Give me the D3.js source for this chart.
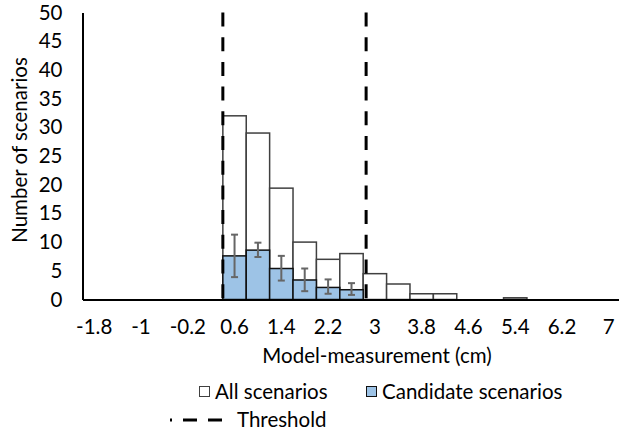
<!DOCTYPE html>
<html>
<head>
<meta charset="utf-8">
<script src="https://cdn.jsdelivr.net/npm/d3@7"></script>
<style>
  body { margin: 0; background: #fff; }
  text { font-family: Lato, "Open Sans", sans-serif; fill: #000; font-size: 20.5px; }
</style>
</head>
<body>
<svg id="chart" width="619" height="434"></svg>
<script>
// bin centres (cm), every other one is labelled
const bins = [-1.8, -1.4, -1.0, -0.6, -0.2, 0.2, 0.6, 1.0, 1.4, 1.8, 2.2, 2.6,
              3.0, 3.4, 3.8, 4.2, 4.6, 5.0, 5.4, 5.8, 6.2, 6.6, 7.0];
const allScenarios = [0, 0, 0, 0, 0, 0, 32, 29, 19.4, 10, 7, 8,
                      4.5, 2.7, 1, 1, 0, 0, 0.3, 0, 0, 0, 0];
const candidateScenarios = [0, 0, 0, 0, 0, 0, 7.6, 8.6, 5.4, 3.4, 2.1, 1.7,
                            0, 0, 0, 0, 0, 0, 0, 0, 0, 0, 0];
const errMinus = [0, 0, 0, 0, 0, 0, 3.7, 1.2, 2.1, 1.95, 1.1, 0.9,
                  0, 0, 0, 0, 0, 0, 0, 0, 0, 0, 0];
const errPlus = [0, 0, 0, 0, 0, 0, 3.7, 1.3, 2.2, 2.0, 1.4, 1.15,
                 0, 0, 0, 0, 0, 0, 0, 0, 0, 0, 0];
const thresholds = [0.4, 2.85];
const binWidth = 0.4;
const yTicks = [0, 5, 10, 15, 20, 25, 30, 35, 40, 45, 50];

const svg = d3.select('#chart');
const plotL = 82.5, plotR = 620.5, plotT = 12.5, plotB = 299.5;

const x = d3.scaleBand()
  .domain(bins.map(String))
  .range([plotL, plotR])
  .padding(0);

// value scale for the threshold lines
const xv = d3.scaleLinear()
  .domain([bins[0] - binWidth / 2, bins[bins.length - 1] + binWidth / 2])
  .range([plotL, plotR]);

const y = d3.scaleLinear().domain([0, 50]).range([plotB, plotT]);

const rows = bins.map((b, i) => ({
  key: String(b), all: allScenarios[i], cand: candidateScenarios[i],
  lo: candidateScenarios[i] - errMinus[i], hi: candidateScenarios[i] + errPlus[i]
}));

// All scenarios
svg.append('g').selectAll('rect')
  .data(rows.filter(d => d.all > 0))
  .join('rect')
  .attr('x', d => x(d.key))
  .attr('y', d => y(d.all))
  .attr('width', x.bandwidth())
  .attr('height', d => plotB - y(d.all))
  .attr('fill', '#fff')
  .attr('stroke', '#404040')
  .attr('stroke-width', 1.5);

// Candidate scenarios
svg.append('g').selectAll('rect')
  .data(rows.filter(d => d.cand > 0))
  .join('rect')
  .attr('x', d => x(d.key))
  .attr('y', d => y(d.cand))
  .attr('width', x.bandwidth())
  .attr('height', d => plotB - y(d.cand))
  .attr('fill', '#9dc3e6')
  .attr('stroke', '#111')
  .attr('stroke-width', 1.5);

// error bars
const eb = svg.append('g').attr('stroke', '#666').attr('stroke-width', 2)
  .selectAll('g')
  .data(rows.filter(d => d.cand > 0))
  .join('g')
  .attr('transform', d => `translate(${x(d.key) + x.bandwidth() / 2},0)`);
eb.append('line').attr('y1', d => y(d.lo)).attr('y2', d => y(d.hi));
eb.append('line').attr('x1', -3.5).attr('x2', 3.5).attr('y1', d => y(d.lo)).attr('y2', d => y(d.lo));
eb.append('line').attr('x1', -3.5).attr('x2', 3.5).attr('y1', d => y(d.hi)).attr('y2', d => y(d.hi));

// thresholds
svg.append('g').selectAll('line')
  .data(thresholds)
  .join('line')
  .attr('x1', d => xv(d)).attr('x2', d => xv(d))
  .attr('y1', y(50)).attr('y2', y(0))
  .attr('stroke', '#000')
  .attr('stroke-width', 3)
  .attr('stroke-dasharray', '14,10.7');

// axes
const yAxis = svg.append('g')
  .attr('transform', `translate(${plotL},0)`)
  .call(d3.axisLeft(y).tickValues(yTicks).tickSize(0).tickPadding(20));
yAxis.select('.domain').attr('stroke', '#000').attr('stroke-width', 2);
yAxis.selectAll('text').attr('font-size', null).attr('font-family', null);

const xAxis = svg.append('g')
  .attr('transform', `translate(0,${plotB})`)
  .call(d3.axisBottom(x)
    .tickValues(bins.filter((b, i) => i % 2 === 0).map(String))
    .tickFormat(d => String(+d))
    .tickSize(0).tickPadding(20));
xAxis.select('.domain').attr('stroke', '#000').attr('stroke-width', 2);
xAxis.selectAll('text').attr('font-size', null).attr('font-family', null);
yAxis.attr('font-size', null).attr('font-family', null);
xAxis.attr('font-size', null).attr('font-family', null);

// titles
svg.append('text')
  .attr('x', 377).attr('y', 363)
  .attr('text-anchor', 'middle')
  .text('Model-measurement (cm)');
svg.append('text')
  .attr('transform', 'translate(27,150) rotate(-90)')
  .attr('text-anchor', 'middle')
  .text('Number of scenarios');

// legend
const lg = svg.append('g');
lg.append('rect').attr('x', 199.5).attr('y', 386.5).attr('width', 10).attr('height', 10)
  .attr('fill', '#fff').attr('stroke', '#404040').attr('stroke-width', 1);
lg.append('text').attr('x', 215).attr('y', 399).text('All scenarios');
lg.append('rect').attr('x', 366.5).attr('y', 386.5).attr('width', 10).attr('height', 10)
  .attr('fill', '#9dc3e6').attr('stroke', '#111').attr('stroke-width', 1);
lg.append('text').attr('x', 382).attr('y', 399).text('Candidate scenarios');
lg.append('line').attr('x1', 170).attr('x2', 222).attr('y1', 420).attr('y2', 420)
  .attr('stroke', '#000').attr('stroke-width', 3)
  .attr('stroke-dasharray', '14,11').attr('stroke-dashoffset', 12);
lg.append('text').attr('x', 237).attr('y', 427).text('Threshold');
</script>
</body>
</html>
